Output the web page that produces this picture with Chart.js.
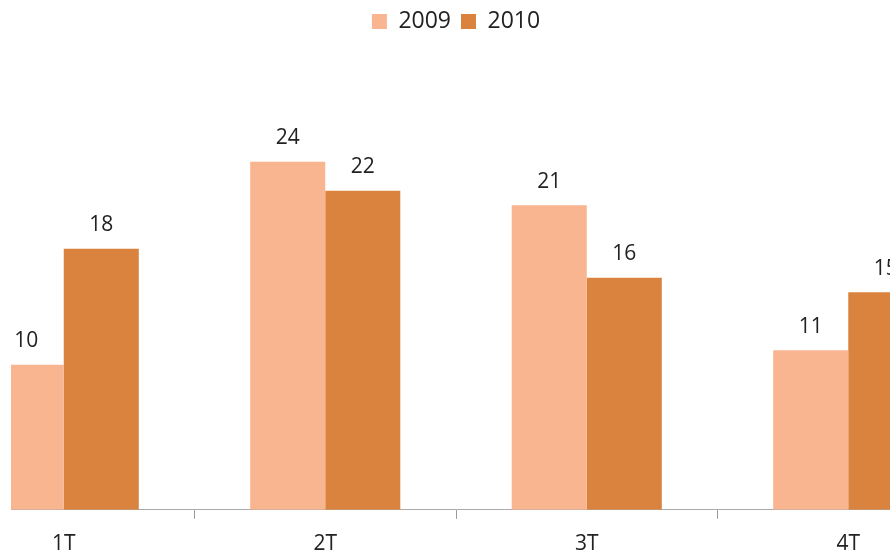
<!DOCTYPE html>
<html lang="es">
<head>
  <meta charset="UTF-8" />
  <title>2009 vs 2010 por trimestre</title>
  <script src="https://cdn.jsdelivr.net/npm/chart.js"></script>
  <style>
    html, body { margin: 0; padding: 0; background: #fff; overflow: hidden; }
    #clip { position: absolute; left: 11px; top: 0; width: 879px; height: 554px; overflow: hidden; }
    #wrap { position: absolute; left: -78px; top: 0; width: 1056px; height: 570px; }
  </style>
</head>
<body>
  <div id="clip"><div id="wrap"><canvas id="chart"></canvas></div></div>

  <script>
    const quarters = ["1T", "2T", "3T", "4T"];
    const values2009 = [10, 24, 21, 11];
    const values2010 = [18, 22, 16, 15];
    const seriesNames = ["2009", "2010"];

    const fontFamily = "'Open Sans', sans-serif";

    // draws the value above each bar
    const barLabels = {
      id: "barLabels",
      afterDatasetsDraw(chart) {
        const ctx = chart.ctx;
        ctx.save();
        ctx.font = "21px " + fontFamily;
        ctx.fillStyle = "#222";
        ctx.textAlign = "center";
        ctx.textBaseline = "bottom";
        chart.data.datasets.forEach((ds, i) => {
          chart.getDatasetMeta(i).data.forEach((bar, j) => {
            ctx.fillText(ds.data[j], bar.x, bar.y - 13);
          });
        });
        ctx.restore();
      }
    };

    new Chart(document.getElementById("chart"), {
      type: "bar",
      data: {
        labels: quarters,
        datasets: [
          { label: seriesNames[0], data: values2009, backgroundColor: "#F9B590" },
          { label: seriesNames[1], data: values2010, backgroundColor: "#DA833E" }
        ]
      },
      options: {
        responsive: true,
        maintainAspectRatio: false,
        animation: false,
        categoryPercentage: 0.574,
        barPercentage: 1,
        layout: { padding: { left: 0, right: 10, top: 0, bottom: 0 } },
        plugins: {
          legend: {
            position: "top",
            labels: {
              boxWidth: 15,
              boxHeight: 15,
              padding: 10,
              color: "#222",
              font: { family: fontFamily, size: 23 }
            }
          },
          tooltip: { enabled: false }
        },
        scales: {
          x: {
            grid: {
              offset: true,
              drawOnChartArea: false,
              drawTicks: true,
              tickLength: 9,
              color: "#999"
            },
            border: { color: "#aaa" },
            ticks: { color: "#222", padding: 13, font: { family: fontFamily, size: 21 } }
          },
          y: {
            display: false,
            min: 0,
            max: 32.2
          }
        }
      },
      plugins: [barLabels]
    });
  </script>
</body>
</html>
